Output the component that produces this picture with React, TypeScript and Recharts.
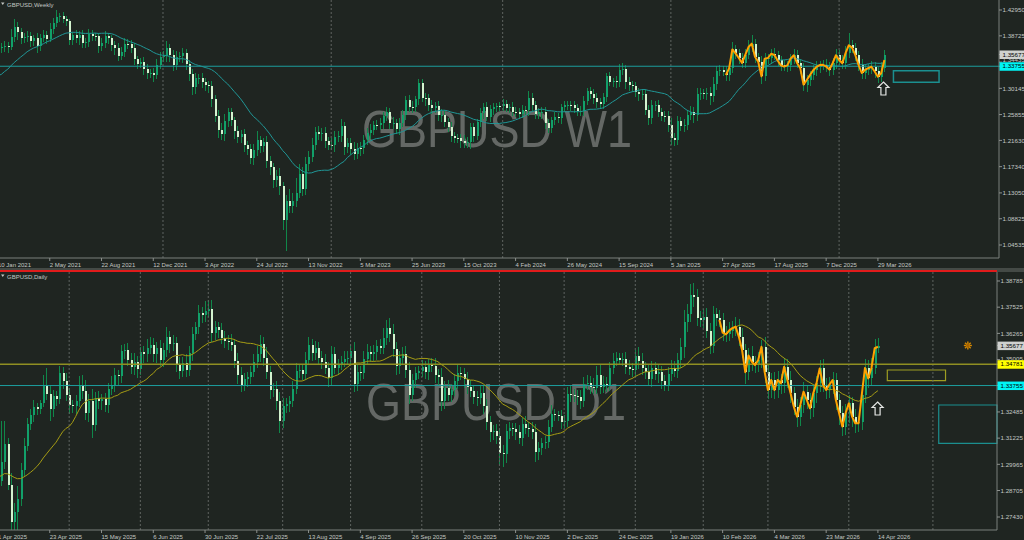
import React from 'react';
import { ComposedChart, Bar, Line, XAxis, YAxis, ReferenceLine, ReferenceArea, ReferenceDot } from 'recharts';

const BG = '#1f2521';
const FONT = 'Liberation Sans, Arial, sans-serif';

// ---------------- WEEKLY (top panel) ----------------
const weeklyWarmup = [1.3350,1.2780,1.2915,1.2745,1.2940,1.3045,1.2925,1.3035,1.2945,1.3150,1.3265,1.3285,1.3325,1.3435,1.3225,1.3590,1.3555,1.3670,1.3640];
const weeklyClose = [
  // 2021
  1.3675,1.3685,1.3705,1.3695,1.3860,1.4010,1.3930,1.3830,1.3860,1.3865,1.3795,1.3830,1.3700,1.3835,1.3890,1.3825,1.3990,1.4080,1.4185,1.4190,
  1.4155,1.4110,1.3805,1.3880,1.3830,1.3890,1.3760,1.3765,1.3900,1.3875,1.3865,1.3700,1.3760,1.3865,1.3830,1.3730,1.3675,1.3545,1.3615,1.3745,
  1.3740,1.3680,1.3490,1.3420,1.3440,1.3335,1.3265,1.3270,1.3235,1.3395,1.3530,
  // 2022
  1.3540,1.3675,1.3555,1.3390,1.3530,1.3540,1.3590,1.3410,1.3255,1.3035,1.3180,1.3185,1.3115,1.3075,1.3060,1.2840,1.2570,1.2335,1.2260,1.2485,
  1.2620,1.2490,1.2310,1.2225,1.2265,1.2095,1.2015,1.1870,1.2005,1.2170,1.2075,1.2140,1.1830,1.1730,1.1510,1.1585,1.1410,1.0855,1.1165,1.1090,
  1.1175,1.1305,1.1615,1.1375,1.1775,1.1895,1.2090,1.2295,1.2260,1.2285,1.2150,1.2095,
  // 2023
  1.2085,1.2225,1.2230,1.2395,1.2050,1.2115,1.2030,1.1945,1.2040,1.2035,1.2175,1.2290,1.2335,1.2415,1.2410,1.2440,1.2565,1.2630,1.2445,1.2450,
  1.2345,1.2450,1.2575,1.2820,1.2715,1.2710,1.2835,1.3095,1.2855,1.2850,1.2745,1.2690,1.2730,1.2575,1.2585,1.2465,1.2380,1.2235,1.2205,1.2195,
  1.2155,1.2125,1.2130,1.2375,1.2235,1.2460,1.2605,1.2705,1.2545,1.2675,1.2705,1.2730,1.2720,
  // 2024
  1.2755,1.2700,1.2705,1.2635,1.2630,1.2600,1.2665,1.2655,1.2860,1.2735,1.2600,1.2625,1.2635,1.2450,1.2370,1.2490,1.2545,1.2525,1.2705,1.2740,
  1.2745,1.2740,1.2685,1.2645,1.2650,1.2815,1.2965,1.2920,1.2855,1.2790,1.2760,1.2865,1.3210,1.3125,1.3130,1.3120,1.3320,1.3330,1.3120,1.3070,
  1.3050,1.2960,1.2915,1.2920,1.2665,1.2530,1.2735,1.2740,1.2620,1.2570,1.2565,1.2420,
  // 2025 - 2026
  1.2205,1.2170,1.2480,1.2405,1.2410,1.2580,1.2635,1.2575,1.2915,1.2935,1.2920,1.2945,1.2895,1.3085,1.3295,1.3310,1.3280,
  1.3232,1.3340,1.3650,1.3585,1.3510,1.3430,1.3560,1.3690,1.3745,1.3530,
  1.3450,1.3210,1.3500,1.3510,1.3580,1.3560,1.3470,1.3390,1.3370,1.3390,
  1.3500,1.3555,1.3430,1.3345,1.3075,1.3150,1.3230,1.3310,1.3365,1.3395,
  1.3400,1.3370,1.3320,1.3425,1.3555,1.3478,1.3424,1.3590,1.3720,1.3680,
  1.3560,1.3400,1.3265,1.3315,1.3345,1.3368,1.3290,1.3205,1.3350,1.3567,
];
const weeklyUpWick = [
  80,70,90,60,120,130,90,70,60,80,70,60,90,70,75,60,90,80,110,60,
  70,50,40,60,80,60,70,75,80,70,50,60,70,90,50,60,60,80,70,90,
  80,60,80,60,70,90,70,60,80,100,80,90,120,70,80,90,70,80,60,70,
  80,90,70,80,70,60,80,70,90,120,110,70,80,60,90,70,80,60,90,100,
  150,70,60,90,80,70,90,120,80,100,200,130,250,160,120,110,100,120,90,100,
  80,90,70,100,90,80,120,70,80,90,100,80,90,70,80,90,70,80,90,70,
  80,70,90,60,80,90,70,80,100,60,70,80,90,70,80,60,70,90,80,70,
  80,70,60,80,100,90,70,80,60,90,70,80,60,70,50,60,80,70,60,80,
  70,60,70,60,110,80,70,60,70,80,70,60,80,70,60,70,60,70,60,80,
  70,80,60,70,80,90,70,80,60,70,60,80,90,100,70,80,60,70,60,80,
  70,80,90,70,90,80,70,80,110,80,90,70,100,80,90,70,100,80,70,80,
  90,120,80,90,70,100,90,120,80,70,90,100,110,140,80,70,90,100,70,80,
  90,70,80,90,70,80,100,80,70,90,80,70,80,90,70,80,90,70,80,100,
  90,80,120,200,90,80,70,90,80,70,90,80,70,100,80,
];
const weeklyDownWick = [
  70,90,80,100,60,80,120,90,70,80,100,90,110,80,70,90,60,80,70,90,
  80,70,90,80,70,100,90,80,70,90,80,100,70,80,90,100,110,80,70,90,
  80,90,100,90,80,100,90,80,110,70,60,80,100,110,90,80,90,110,100,120,
  130,110,90,100,110,120,130,110,140,90,100,110,90,120,100,110,120,90,100,110,
  90,120,100,110,130,120,110,140,160,505,120,110,100,90,120,100,110,90,80,90,
  100,110,90,80,110,90,100,120,90,100,110,80,130,90,80,100,90,80,70,90,
  80,90,100,80,90,70,80,90,100,80,90,70,120,100,90,80,100,110,90,80,
  100,90,80,110,90,80,100,90,70,80,90,70,80,90,70,80,70,80,90,70,
  90,80,70,80,90,100,80,90,110,100,90,80,70,80,90,70,80,90,70,80,
  90,80,70,80,90,100,80,90,70,80,90,100,80,90,110,100,90,80,100,90,
  80,110,100,90,80,90,100,120,110,100,80,90,100,80,90,120,100,90,80,90,
  150,100,90,80,70,90,100,80,90,100,80,90,70,80,100,90,120,80,90,100,
  80,90,100,80,90,100,80,90,100,110,120,90,80,90,100,80,90,100,80,90,
  80,90,100,80,90,100,110,100,90,80,90,100,110,90,70,
];
const weeklyZigStart = 225;
const weeklyZig = [
  1.3232,1.3340,1.3650,1.3585,1.3510,1.3430,1.3560,1.3690,1.3745,1.3530,
  1.3450,1.3210,1.3500,1.3510,1.3580,1.3560,1.3470,1.3390,1.3370,1.3390,
  1.3500,1.3555,1.3430,1.3345,1.3075,1.3150,1.3230,1.3310,1.3365,1.3395,
  1.3400,1.3370,1.3320,1.3425,1.3555,1.3478,1.3424,1.3590,1.3720,1.3680,
  1.3560,1.3400,1.3265,1.3315,1.3345,1.3368,1.3290,1.3205,1.3260,1.3478,
];
const weeklyDateLabels = ['10 Jan 2021','2 May 2021','22 Aug 2021','12 Dec 2021','3 Apr 2022','24 Jul 2022','13 Nov 2022','5 Mar 2023','25 Jun 2023','15 Oct 2023','4 Feb 2024','26 May 2024','15 Sep 2024','5 Jan 2025','27 Apr 2025','17 Aug 2025','7 Dec 2025','29 Mar 2026'];
const weeklyYearLines = [51, 103, 156, 208, 260];
const weeklyPriceTicks = [1.4295,1.38725,1.34435,1.30145,1.25855,1.2163,1.1734,1.1305,1.08825,1.04535,1.35677,1.33755];

// ---------------- DAILY (bottom panel) ----------------
const dailyWarmup = [1.2895,1.2885,1.2920,1.2880,1.2945,1.2960,1.2955,1.2935,1.2990,1.3000,1.3005,1.2965,1.2915,1.2920,1.2945,1.2880,1.2945,1.2940,1.2920];
const dailyClose = [
  1.2915,1.3010,1.3095,1.2895,1.2720,1.2765,1.2830,1.2970,1.3085,1.3190,
  1.3235,1.3270,1.3265,1.3290,1.3380,1.3335,1.3265,1.3325,1.3310,1.3435,
  1.3395,1.3330,1.3280,1.3275,1.3300,1.3380,1.3350,1.3245,1.3300,1.3185,
  1.3315,1.3300,1.3310,1.3280,1.3360,1.3380,1.3425,1.3420,1.3540,1.3545,
  1.3500,1.3465,1.3490,1.3455,1.3535,1.3525,1.3555,1.3570,1.3525,1.3555,
  1.3500,1.3545,1.3610,1.3575,1.3580,1.3480,1.3445,1.3485,1.3450,1.3530,
  1.3625,1.3655,1.3725,1.3715,1.3735,1.3745,1.3630,1.3655,1.3645,1.3605,
  1.3590,1.3585,1.3570,1.3495,1.3425,1.3380,1.3405,1.3415,1.3440,1.3490,
  1.3525,1.3575,1.3510,1.3440,1.3355,1.3360,1.3300,1.3205,1.3275,1.3285,
  1.3300,1.3360,1.3445,1.3450,1.3430,1.3500,1.3570,1.3530,1.3555,1.3510,
  1.3490,1.3460,1.3410,1.3525,1.3460,1.3480,1.3490,1.3505,1.3510,1.3540,
  1.3385,1.3440,1.3435,1.3505,1.3535,1.3525,1.3535,1.3565,1.3555,1.3605,
  1.3650,1.3625,1.3550,1.3470,1.3510,1.3525,1.3450,1.3330,1.3400,1.3435,
  1.3445,1.3465,1.3440,1.3475,1.3470,1.3425,1.3415,1.3300,1.3365,1.3330,
  1.3355,1.3395,1.3435,1.3430,1.3405,1.3370,1.3350,1.3320,1.3315,1.3340,
  1.3275,1.3200,1.3150,1.3155,1.3135,1.3050,1.3045,1.3155,1.3170,1.3165,
  1.3150,1.3125,1.3190,1.3170,1.3165,1.3150,1.3055,1.3075,1.3100,1.3105,
  1.3175,1.3240,1.3235,1.3230,1.3200,1.3205,1.3335,1.3330,1.3325,1.3320,
  1.3300,1.3385,1.3390,1.3370,1.3365,1.3425,1.3370,1.3385,1.3380,1.3460,
  1.3495,1.3510,1.3500,1.3505,1.3465,1.3455,1.3450,1.3520,1.3495,1.3460,
  1.3440,1.3405,1.3460,1.3430,1.3440,1.3395,1.3380,1.3430,1.3460,1.3445,
  1.3500,1.3560,1.3680,1.3720,1.3810,1.3800,1.3700,1.3690,1.3705,1.3640,
  1.3565,1.3720,1.3700,
  1.3691,1.3630,1.3622,1.3640,1.3652,1.3659,1.3611,1.3547,1.3440,1.3520,
  1.3490,1.3474,1.3498,1.3562,1.3440,1.3354,1.3402,1.3354,1.3402,1.3386,
  1.3466,1.3402,1.3338,1.3274,1.3226,1.3282,1.3346,1.3306,1.3266,1.3338,
  1.3386,1.3458,1.3380,1.3354,1.3380,1.3402,1.3306,1.3242,1.3178,1.3242,
  1.3290,1.3226,1.3194,1.3198,1.3330,1.3460,1.3410,1.3460,1.3555,1.3567,
];
const dailyUpWick = [
  20,196,112,30,60,45,60,35,40,30,28,35,20,15,45,80,40,30,25,35,
  30,40,35,25,30,40,45,50,35,60,30,35,25,30,30,40,35,25,30,30,
  35,30,40,30,25,30,45,40,35,30,40,35,45,30,40,30,35,30,40,35,
  30,25,40,30,45,40,40,30,25,30,35,30,40,30,35,40,30,25,30,35,
  40,45,35,50,30,30,35,45,40,30,25,35,40,25,30,35,40,30,35,30,
  30,35,30,40,35,25,30,35,30,30,45,35,30,35,40,30,35,30,35,45,
  40,50,45,35,30,35,40,40,30,30,25,35,30,30,35,40,30,45,30,35,
  30,35,40,30,30,35,30,25,30,35,40,35,30,30,35,30,40,35,30,25,
  30,35,30,40,30,35,40,30,25,30,35,40,25,20,30,30,35,40,30,30,
  35,30,35,30,40,45,50,35,30,30,35,25,20,25,30,35,30,25,40,35,
  30,40,35,30,35,30,30,35,40,35,30,45,60,50,55,60,40,35,40,45,
  35,40,30,40,35,30,40,35,45,35,40,30,35,45,30,40,35,45,40,35,
  40,45,30,40,35,45,30,35,40,45,30,35,40,35,40,45,30,35,40,35,
  30,35,45,40,30,35,30,60,45,40,50,45,35,
];
const dailyDownWick = [
  30,25,35,20,130,60,110,35,30,25,30,35,30,25,20,30,60,40,35,25,
  35,30,40,30,35,30,40,35,45,60,30,35,40,30,35,30,35,40,30,35,
  30,35,40,45,30,40,35,30,35,40,30,35,30,45,35,40,40,30,35,30,
  35,30,30,40,35,30,45,35,40,30,35,40,30,35,40,35,30,35,30,25,
  30,35,40,35,45,35,40,60,35,30,35,30,25,35,30,30,25,35,30,35,
  35,30,40,35,30,35,30,25,30,30,40,35,40,30,30,35,30,35,30,30,
  35,40,35,45,40,35,40,45,30,35,30,30,35,40,30,35,40,45,35,30,
  35,30,35,30,40,35,30,35,40,30,35,40,45,35,40,50,60,40,35,30,
  35,30,40,30,35,30,45,40,35,30,30,25,30,25,35,30,30,35,30,40,
  35,30,30,35,30,30,35,30,35,30,30,25,25,30,35,30,35,30,40,35,
  35,30,35,30,40,35,30,30,35,30,35,40,50,45,40,45,40,35,40,35,
  40,35,40,35,40,35,30,35,40,45,40,55,40,45,40,35,40,50,45,40,
  45,40,50,45,40,45,40,50,45,40,45,50,40,45,40,35,45,40,45,50,
  55,45,40,45,50,45,40,35,40,45,35,30,25,
];
const dailyZigStart = 223;
const dailyZig = [
  1.3691,1.3630,1.3622,1.3640,1.3652,1.3659,1.3611,1.3547,1.3440,1.3520,
  1.3490,1.3474,1.3498,1.3562,1.3440,1.3354,1.3402,1.3354,1.3402,1.3386,
  1.3466,1.3402,1.3338,1.3274,1.3226,1.3282,1.3346,1.3306,1.3266,1.3338,
  1.3386,1.3458,1.3380,1.3354,1.3380,1.3402,1.3306,1.3242,1.3178,1.3242,
  1.3290,1.3226,1.3194,1.3194,1.3330,1.3460,1.3410,1.3460,1.3555,1.3562,
];
const dailyDateLabels = ['1 Apr 2025','23 Apr 2025','15 May 2025','6 Jun 2025','30 Jun 2025','22 Jul 2025','13 Aug 2025','4 Sep 2025','26 Sep 2025','20 Oct 2025','10 Nov 2025','2 Dec 2025','24 Dec 2025','19 Jan 2026','10 Feb 2026','4 Mar 2026','23 Mar 2026','14 Apr 2026'];
const dailyMonthLines = [22, 44, 65, 88, 109, 131, 155, 175, 197, 218, 238, 263, 289];
const dailyPriceTicks = [1.38785,1.37525,1.36265,1.35005,1.32485,1.31225,1.29965,1.28705,1.2743,1.35677,1.34781,1.33755];

const dateTickIdx = [0,16,32,48,64,80,96,112,128,144,160,176,192,208,224,240,256,272];

// ---------------- helpers ----------------
type Row = { i: number; o: number; c: number; h: number; l: number; range: [number, number]; ma: number; zz: number | null };

function buildRows(warm: number[], closes: number[], up: number[], dn: number[], zigStart: number, zig: number[]): Row[] {
  const all = warm.concat(closes);
  const n = warm.length + 1;
  return closes.map((c, i) => {
    const o = i === 0 ? warm[warm.length - 1] : closes[i - 1];
    const h = Math.max(o, c) + (up[i] ?? 30) / 10000;
    const l = Math.min(o, c) - (dn[i] ?? 30) / 10000;
    let s = 0;
    for (let k = i; k < i + n; k++) s += all[k];
    const zi = i - zigStart;
    return { i, o, c, h, l, range: [l, h] as [number, number], ma: s / n, zz: zi >= 0 && zi < zig.length ? zig[zi] : null };
  });
}

const weeklyRows = buildRows(weeklyWarmup, weeklyClose, weeklyUpWick, weeklyDownWick, weeklyZigStart, weeklyZig);
const dailyRows = buildRows(dailyWarmup, dailyClose, dailyUpWick, dailyDownWick, dailyZigStart, dailyZig);

const BULL = '#12a06a';
const BEAR = '#d3f3cf';
const WICK = '#10874a';

const Candle = (props: any) => {
  const { x, y, width, height, payload } = props;
  if (!payload || x == null || y == null) return null;
  const top = Math.min(y, y + height);
  const hh = Math.abs(height);
  const { o, c, h, l } = payload;
  const k = h > l ? hh / (h - l) : 0;
  const yo = top + (h - o) * k;
  const yc = top + (h - c) * k;
  const cx = Math.round(x + width / 2 - 0.5);
  const bull = c >= o;
  const bt = Math.min(yo, yc);
  const bb = Math.max(yo, yc);
  return (
    <g shapeRendering="crispEdges">
      <line x1={cx + 0.5} x2={cx + 0.5} y1={top} y2={top + hh} stroke={WICK} strokeWidth={1} />
      <rect x={cx} y={bt} width={2} height={Math.max(1, bb - bt)} fill={bull ? BULL : BEAR} />
    </g>
  );
};

const makePriceTick = (boxes: Record<string, string>, axisX: number, shifts: Record<string, number>) => (props: any) => {
  const { y, payload } = props;
  const v: number = payload.value;
  const key = v.toFixed(5);
  const b = boxes[key];
  const dy = shifts[key] ?? 0;
  return (
    <g>
      <line x1={axisX} x2={axisX + 3} y1={y} y2={y} stroke="#8d918e" strokeWidth={1} />
      {b && <rect x={axisX + 0.5} y={y - 4} width={1024 - axisX} height={8.5} fill={b} />}
      <text x={axisX + 3.5} y={y + 2.2 + dy} fontSize={6.2} fontFamily={FONT} fill={b ? '#000000' : '#c3c7c4'}>{key}</text>
    </g>
  );
};

const makeDateTick = (labels: string[], axisY: number) => (props: any) => {
  const { x, payload } = props;
  const idx = dateTickIdx.indexOf(payload.value);
  return (
    <g>
      <line x1={x} x2={x} y1={axisY} y2={axisY + 3} stroke="#8d918e" strokeWidth={1} />
      <text x={x} y={axisY + 8.5} fontSize={6} fontFamily={FONT} fill="#c3c7c4" textAnchor="start">{labels[idx] ?? ''}</text>
    </g>
  );
};

const Arrow = (props: any) => {
  const { cx, cy } = props;
  const d = `M ${cx} ${cy - 6.5} L ${cx + 5.5} ${cy - 1} L ${cx + 2.5} ${cy - 1} L ${cx + 2.5} ${cy + 6.5} L ${cx - 2.5} ${cy + 6.5} L ${cx - 2.5} ${cy - 1} L ${cx - 5.5} ${cy - 1} Z`;
  return <path d={d} fill="none" stroke="#e4e6e4" strokeWidth={1.2} strokeLinejoin="miter" />;
};

const Star = (props: any) => {
  const { cx, cy } = props;
  const r = 4;
  return (
    <g stroke="#d88a00" strokeWidth={1.4}>
      {[0, 45, 90, 135].map((a) => {
        const dx = r * Math.cos((a * Math.PI) / 180);
        const dy = r * Math.sin((a * Math.PI) / 180);
        return <line key={a} x1={cx - dx} y1={cy - dy} x2={cx + dx} y2={cy + dy} />;
      })}
      <circle cx={cx} cy={cy} r={1.8} fill="#a86400" stroke="none" />
    </g>
  );
};

const GRID = '#5f6461';
const AXIS = '#7b807c';

function TopChart() {
  return (
    <ComposedChart width={1024} height={540} data={weeklyRows} margin={{ top: 0, right: 0, bottom: 270, left: 0 }}>
      <XAxis type="number" dataKey="i" domain={[0.618, 309.43]} allowDataOverflow ticks={dateTickIdx} interval={0}
        tick={makeDateTick(weeklyDateLabels, 258)} tickLine={false} axisLine={{ stroke: AXIS }} height={12} />
      <YAxis type="number" orientation="right" width={25} domain={[1.02409, 1.44585]} allowDataOverflow ticks={weeklyPriceTicks} interval={0}
        tick={makePriceTick({ '1.35677': '#cfd1cf', '1.33755': '#00f5f5' }, 999, { '1.34435': -2 })} tickLine={false} axisLine={{ stroke: AXIS }} />
      {weeklyYearLines.map((v) => (
        <ReferenceLine key={v} x={v} stroke={GRID} strokeDasharray="2 2" />
      ))}
      <ReferenceLine y={1.33755} stroke="#1c9e9e" strokeWidth={1} />
      <ReferenceArea x1={276.8} x2={290.9} y1={1.31131} y2={1.33027} fill="none" stroke="#1b8f8f" strokeWidth={1.5} />
      <Bar dataKey="range" barSize={2} shape={Candle} isAnimationActive={false} />
      <Line dataKey="ma" type="linear" stroke="#1f9696" strokeWidth={1} dot={false} isAnimationActive={false} />
      <Line dataKey="zz" type="linear" stroke="#ffa200" strokeWidth={2} dot={false} connectNulls={false} strokeLinejoin="round" isAnimationActive={false} />
      <ReferenceDot x={273.7} y={1.30118} r={6} shape={Arrow} />
    </ComposedChart>
  );
}

function BottomChart() {
  return (
    <ComposedChart width={1024} height={540} data={dailyRows} margin={{ top: 271, right: 0, bottom: 0, left: 0 }}>
      <XAxis type="number" dataKey="i" domain={[0.618, 308.81]} allowDataOverflow ticks={dateTickIdx} interval={0}
        tick={makeDateTick(dailyDateLabels, 530)} tickLine={false} axisLine={{ stroke: AXIS }} height={10} />
      <YAxis type="number" orientation="right" width={27} domain={[1.26805, 1.39266]} allowDataOverflow ticks={dailyPriceTicks} interval={0}
        tick={makePriceTick({ '1.35677': '#cfd1cf', '1.34781': '#ffff00', '1.33755': '#00f5f5' }, 997, { '1.35005': -1 })} tickLine={false} axisLine={{ stroke: AXIS }} />
      {dailyMonthLines.map((v) => (
        <ReferenceLine key={v} x={v} stroke={GRID} strokeDasharray="2 2" />
      ))}
      <ReferenceLine y={1.34781} stroke="#8f8f22" strokeWidth={1.5} />
      <ReferenceLine y={1.33755} stroke="#1c9e9e" strokeWidth={1} />
      <ReferenceArea x1={274.9} x2={292.9} y1={1.33988} y2={1.34503} fill="none" stroke="#9e9e22" strokeWidth={1.2} />
      <ReferenceArea x1={290.8} x2={308.81} y1={1.30976} y2={1.32819} fill="none" stroke="#1b8f8f" strokeWidth={1.2} />
      <Bar dataKey="range" barSize={2} shape={Candle} isAnimationActive={false} />
      <Line dataKey="ma" type="linear" stroke="#a59c14" strokeWidth={1} dot={false} isAnimationActive={false} />
      <Line dataKey="zz" type="linear" stroke="#ffa200" strokeWidth={2} dot={false} connectNulls={false} strokeLinejoin="round" isAnimationActive={false} />
      <ReferenceDot x={271.9} y={1.3265} r={6} shape={Arrow} />
      <ReferenceDot x={299.8} y={1.35682} r={4} shape={Star} />
    </ComposedChart>
  );
}

export default function App() {
  return (
    <div style={{ position: 'fixed', left: 0, top: 0, width: 1024, height: 540, background: BG, overflow: 'hidden' }}>
      <svg style={{ position: 'absolute', left: 0, top: 0 }} width={1024} height={540}>
        <text x={362} y={147} fontSize={52} textLength={270} lengthAdjust="spacingAndGlyphs" fill="#646865" fontFamily={FONT}>GBPUSD W1</text>
        <text x={366} y={420} fontSize={52} textLength={260} lengthAdjust="spacingAndGlyphs" fill="#646865" fontFamily={FONT}>GBPUSD D1</text>
      </svg>
      <div style={{ position: 'absolute', left: 0, top: 0 }}>
        <TopChart />
      </div>
      <div style={{ position: 'absolute', left: 0, top: 0 }}>
        <BottomChart />
      </div>
      <div style={{ position: 'absolute', left: 0, top: 268, width: 1024, height: 2, background: '#444a46' }} />
      <div style={{ position: 'absolute', left: 0, top: 270, width: 997, height: 2, background: '#e01b1b' }} />
      <div style={{ position: 'absolute', left: 997, top: 270, width: 27, height: 2, background: '#444a46' }} />
      <svg style={{ position: 'absolute', left: 0, top: 0, pointerEvents: 'none' }} width={1024} height={540}>
        <path d="M 1 2.5 L 4.5 2.5 L 2.75 5 Z" fill="#c3c7c4" />
        <text x={7} y={6.5} fontSize={6} fontFamily={FONT} fill="#c3c7c4">GBPUSD,Weekly</text>
        <path d="M 1 274.5 L 4.5 274.5 L 2.75 277 Z" fill="#c3c7c4" />
        <text x={7} y={278.5} fontSize={6} fontFamily={FONT} fill="#c3c7c4">GBPUSD,Daily</text>
      </svg>
    </div>
  );
}
